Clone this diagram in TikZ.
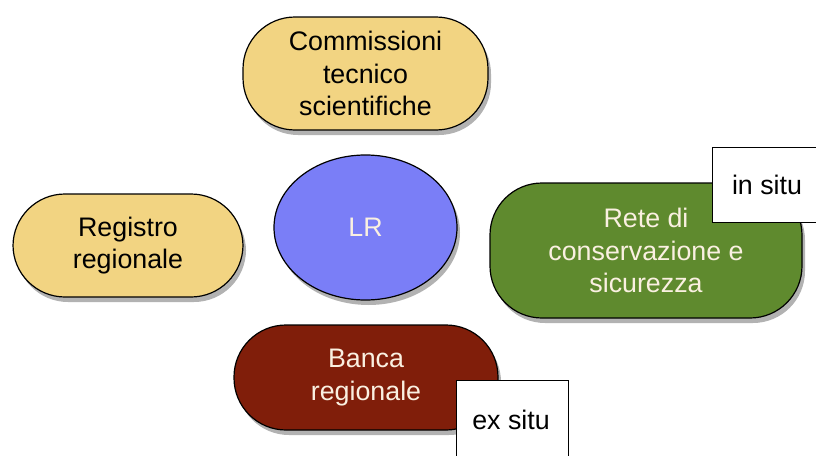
\documentclass[tikz,border=0pt]{standalone}
\usepackage{fontspec}
\setmainfont{Liberation Sans}
\usetikzlibrary{shadows,shapes.geometric}
\definecolor{cyellow}{RGB}{242,212,130}
\definecolor{cblue}{RGB}{122,126,247}
\definecolor{cgreen}{RGB}{95,138,46}
\definecolor{cred}{RGB}{128,30,10}
\definecolor{ctext}{RGB}{250,240,225}
\begin{document}
\begin{tikzpicture}[x=1pt,y=-1pt,
  every node/.style={font=\fontsize{26.8}{32.5}\selectfont, align=center, inner sep=0pt},
  blob/.style={draw=black, line width=1.2pt, rounded corners=52pt,
     drop shadow={shadow xshift=3pt, shadow yshift=-5pt, opacity=0.3, fill=black}},
  tag/.style={draw=black, line width=1pt, fill=white}]
\useasboundingbox (0,0) rectangle (816,455);
\clip (0,0) rectangle (816,455);
\node[blob, fill=cyellow, minimum width=245pt, minimum height=113pt] (cts) at (365.5,73.5) {Commissioni\\tecnico\\scientifiche};
\node[blob, fill=cyellow, minimum width=230pt, minimum height=103pt] (reg) at (128,245.5) {Registro\\regionale};
\node[ellipse, draw=black, line width=1.2pt, fill=cblue, text=ctext, minimum width=183pt, minimum height=145pt,
     drop shadow={shadow xshift=3pt, shadow yshift=-5pt, opacity=0.3, fill=black}] (lr) at (365.5,227.5) {LR};
\node[blob, fill=cgreen, text=ctext, minimum width=312pt, minimum height=135pt] (rete) at (646,250.5) {Rete di\\conservazione e\\sicurezza};
\node[blob, fill=cred, text=ctext, minimum width=264pt, minimum height=105pt] (banca) at (366,377.5) {Banca\\regionale};
\node[tag, minimum width=106pt, minimum height=75pt] (insitu) at (765,184.5) {};
\node at (767,185) {in situ};
\node[tag, minimum width=112pt, minimum height=90pt] (exsitu) at (512,425) {};
\node at (511,420) {ex situ};
\end{tikzpicture}
\end{document}
